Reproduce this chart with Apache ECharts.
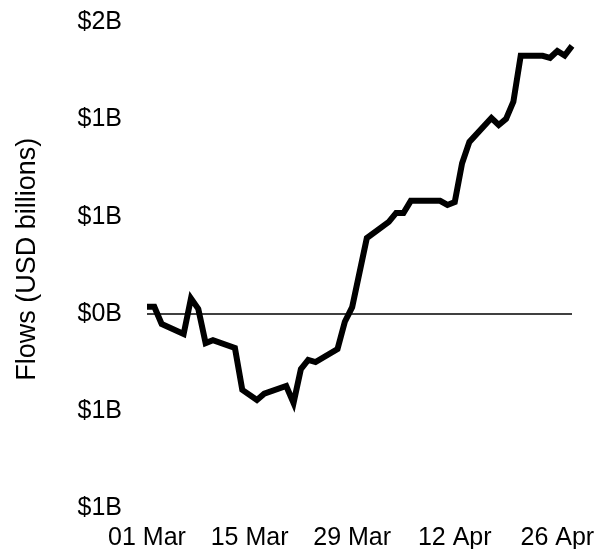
<!DOCTYPE html>
<html>
<head>
<meta charset="utf-8">
<script src="https://cdn.jsdelivr.net/npm/echarts@6/dist/echarts.min.js"></script>
<style>
  html, body { margin: 0; padding: 0; background: #fff; }
  #main { width: 608px; height: 549px; }
</style>
</head>
<body>
<div id="main"></div>
<script>
// calendar range of the x axis
var startDay = '2023-03-01';
var endDay = '2023-04-28';

// business-day points
var flowDates = ['2023-03-01','2023-03-02','2023-03-03','2023-03-06','2023-03-07','2023-03-08','2023-03-09','2023-03-10',
    '2023-03-13','2023-03-14','2023-03-16','2023-03-17','2023-03-20','2023-03-21','2023-03-22','2023-03-23','2023-03-24',
    '2023-03-27','2023-03-28','2023-03-29','2023-03-31','2023-04-03','2023-04-04','2023-04-05','2023-04-06',
    '2023-04-10','2023-04-11','2023-04-12','2023-04-13','2023-04-14','2023-04-17','2023-04-18','2023-04-19','2023-04-20',
    '2023-04-21','2023-04-24','2023-04-25','2023-04-26','2023-04-27','2023-04-28'];
var flowValues = [0.037, 0.037, -0.051, -0.103, 0.080, 0.026, -0.150, -0.135,
    -0.175, -0.390, -0.442, -0.410, -0.370, -0.457, -0.283, -0.236, -0.247,
    -0.180, -0.040, 0.035, 0.390, 0.473, 0.519, 0.519, 0.581,
    0.581, 0.560, 0.575, 0.774, 0.884, 1.007, 0.971, 1.002, 1.091,
    1.326, 1.326, 1.316, 1.351, 1.328, 1.377];

var yTicks = [-1, -0.5, 0, 0.5, 1, 1.5];
var yTickLabels = ['$1B', '$1B', '$0B', '$1B', '$1B', '$2B'];

var months = ['Jan','Feb','Mar','Apr','May','Jun','Jul','Aug','Sep','Oct','Nov','Dec'];

function isoDay(d) {
    var m = d.getUTCMonth() + 1, day = d.getUTCDate();
    return d.getUTCFullYear() + '-' + (m < 10 ? '0' + m : m) + '-' + (day < 10 ? '0' + day : day);
}

var days = [];
var cur = new Date(startDay + 'T00:00:00Z');
var last = new Date(endDay + 'T00:00:00Z');
while (cur <= last) {
    days.push(isoDay(cur));
    cur = new Date(cur.getTime() + 86400000);
}

var lookup = {};
flowDates.forEach(function (d, i) { lookup[d] = flowValues[i]; });
var seriesData = days.map(function (d) { return lookup[d] === undefined ? null : lookup[d]; });

var fontFam = 'Liberation Sans, Arial, sans-serif';

var chart = echarts.init(document.getElementById('main'));
var option = {
    animation: false,
    grid: { left: 147, right: 36, top: 22, bottom: 40.4, outerBoundsMode: 'none' },
    xAxis: {
        type: 'category',
        data: days,
        boundaryGap: false,
        axisLine: { show: false },
        axisTick: { show: false },
        splitLine: { show: false },
        axisLabel: {
            interval: 13,
            margin: 17,
            color: '#000',
            fontSize: 25,
            fontFamily: fontFam,
            formatter: function (v) {
                var p = v.split('-');
                return p[2] + ' ' + months[parseInt(p[1], 10) - 1];
            }
        }
    },
    yAxis: {
        type: 'value',
        min: -1,
        max: 1.5,
        interval: 0.5,
        name: 'Flows (USD billions)',
        nameLocation: 'middle',
        nameGap: 106,
        nameTextStyle: { color: '#000', fontSize: 27, fontFamily: fontFam, padding: [0, 0, 0, 12] },
        axisLine: { show: false },
        axisTick: { show: false },
        splitLine: { show: false },
        axisLabel: {
            margin: 25,
            color: '#000',
            fontSize: 25,
            fontFamily: fontFam,
            formatter: function (v) {
                var i = yTicks.indexOf(Math.round(v * 100) / 100);
                return i >= 0 ? yTickLabels[i] : '';
            }
        }
    },
    series: [{
        type: 'line',
        data: seriesData,
        connectNulls: true,
        symbol: 'none',
        lineStyle: { color: '#000', width: 6, join: 'miter', cap: 'butt' },
        markLine: {
            silent: true,
            symbol: 'none',
            label: { show: false },
            lineStyle: { color: '#000', width: 1.5, type: 'solid' },
            data: [{ yAxis: 0 }]
        }
    }]
};
chart.setOption(option);
</script>
</body>
</html>
